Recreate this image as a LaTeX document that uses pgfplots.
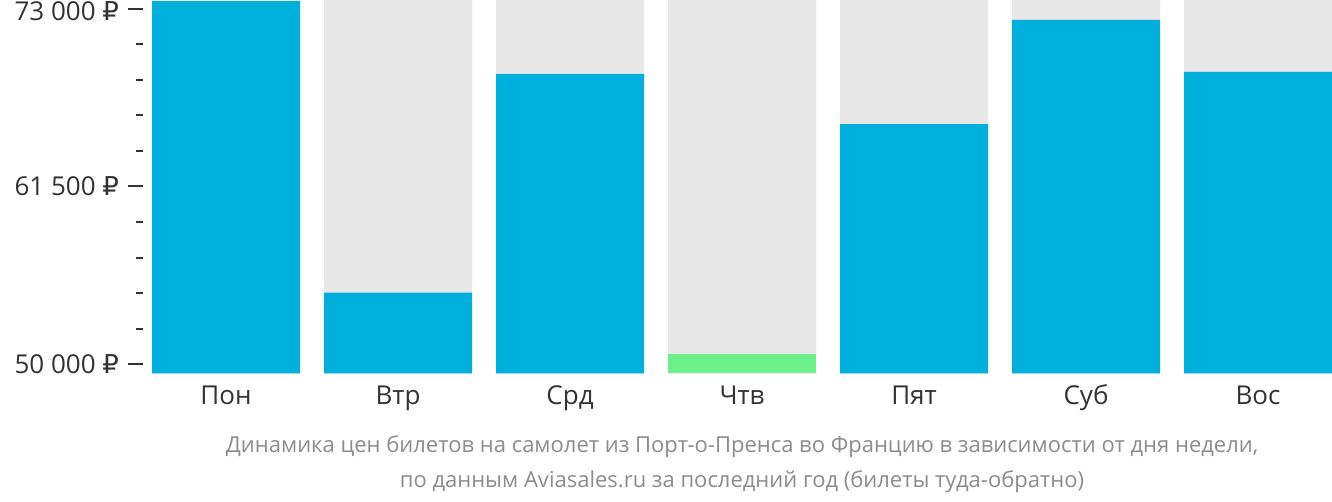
\documentclass[border=0pt]{standalone}
\usepackage{fontspec}
\setmainfont{Open Sans}
\newfontfamily\rubfont{DejaVu Sans}
\newcommand{\rub}{{\rubfont ₽}}
\usepackage{pgfplots}
\pgfplotsset{compat=1.18}
\definecolor{barblue}{HTML}{00B0DC}
\definecolor{bargreen}{HTML}{6CF08A}
\definecolor{bargray}{HTML}{E8E8E8}
\definecolor{ticktext}{HTML}{333333}
\definecolor{captext}{HTML}{8C8C8C}
\begin{document}
\begin{tikzpicture}
\useasboundingbox (0bp,0bp) rectangle (666bp,-251bp);
\begin{axis}[
  at={(71.5bp,-186.65bp)}, anchor=south west,
  scale only axis, width=594.5bp, height=186.65bp,
  xmin=-0.4826, xmax=6.4302,
  ymin=49418, ymax=73550,
  axis line style={draw=none},
  tick pos=left,
  tick align=outside,
  ytick={50000,61500},
  yticklabels={50 000 \rub,61 500 \rub},
  extra y ticks={73000},
  extra y tick labels={73 000 \rub},
  extra y tick style={grid=none, yticklabel style={yshift=-1.5bp}},
  minor ytick={52300,54600,56900,59200,63800,66100,68400,70700},
  xtick={0,1,2,3,4,5,6},
  xticklabels={Пон,Втр,Срд,Чтв,Пят,Суб,Вос},
  major tick length=7.5bp, minor tick length=3.5bp,
  y tick style={line width=1bp, color=ticktext},
  x tick style={draw=none},
  tick label style={font=\fontsize{13bp}{15bp}\selectfont, color=ticktext},
  yticklabel style={xshift=-1bp},
  xticklabel style={anchor=base, yshift=-8bp},
  ybar, bar width=74bp,
]
\addplot[fill=bargray, draw=none, bar shift=0pt] coordinates {
  (0,73550) (1,73550) (2,73550) (3,73550) (4,73550) (5,73550) (6,73550)};
\addplot[fill=barblue, draw=none, bar shift=0pt] coordinates {
  (0,73480) (1,54630) (2,68770) (4,65530) (5,72260) (6,68900)};
\addplot[fill=bargreen, draw=none, bar shift=0pt] coordinates {
  (3,50670)};
\end{axis}
\node[font=\fontsize{11bp}{13bp}\selectfont, color=captext] at (371bp,-223.5bp)
  {Динамика цен билетов на самолет из Порт-о-Пренса во Францию в зависимости от дня недели,};
\node[font=\fontsize{11bp}{13bp}\selectfont, color=captext] at (371bp,-241bp)
  {по данным Aviasales.ru за последний год (билеты туда-обратно)};
\end{tikzpicture}
\end{document}
